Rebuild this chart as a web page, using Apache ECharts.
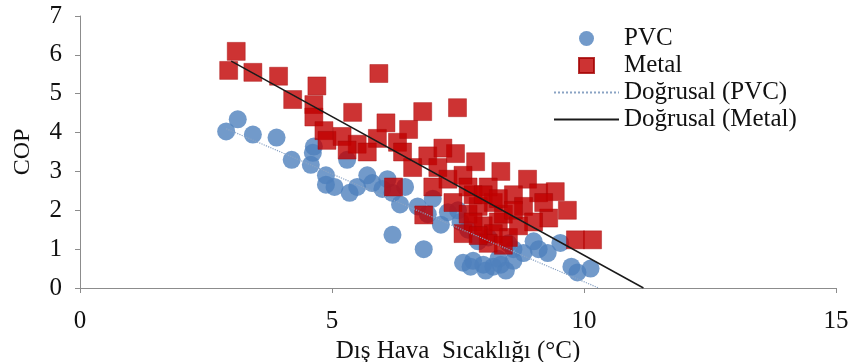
<!DOCTYPE html>
<html>
<head>
<meta charset="utf-8">
<title>COP - Dış Hava Sıcaklığı</title>
<script src="https://cdn.jsdelivr.net/npm/echarts@6/dist/echarts.min.js"></script>
<style>
  html, body { margin: 0; padding: 0; background: #fff; }
  #chart { width: 852px; height: 362px; }
</style>
</head>
<body>
<div id="chart"></div>
<script>
// olculen noktalar (x: dis hava sicakligi, y: COP)
var pvcPoints = [
  [2.9, 4.03], [3.13, 4.34], [3.43, 3.95], [3.9, 3.87], [4.2, 3.3], [4.62, 3.48],
  [4.64, 3.64], [4.58, 3.17], [4.88, 2.9], [4.88, 2.66], [5.05, 2.6], [5.3, 3.3],
  [5.35, 2.45], [5.5, 2.6], [5.7, 2.9], [5.8, 2.7], [6.0, 2.55], [6.1, 2.8],
  [6.2, 2.45], [6.35, 2.15], [6.45, 2.6], [6.2, 1.37], [6.82, 1.0], [6.7, 2.1],
  [6.9, 1.9], [7.0, 2.3], [7.16, 1.63], [7.3, 1.95], [7.5, 2.0], [7.55, 1.7],
  [7.7, 1.5], [7.6, 0.65], [7.8, 0.7], [8.0, 0.6], [8.2, 0.55], [8.45, 0.45],
  [8.3, 0.75], [7.9, 1.2], [8.1, 1.3], [8.5, 1.15], [8.8, 0.9], [9.28, 0.9],
  [9.53, 1.16], [9.87, 0.4], [10.13, 0.5], [8.6, 1.0], [9.0, 1.2],
  [7.75, 0.55], [8.05, 0.45], [8.35, 0.6], [8.6, 0.7], [9.75, 0.55], [9.1, 1.0]
];
var metalPoints = [
  [2.95, 5.6], [3.1, 6.09], [3.43, 5.55], [3.94, 5.45], [4.22, 4.85], [4.7, 5.2],
  [4.64, 4.72], [4.64, 4.4], [4.84, 4.05], [4.9, 3.8], [5.41, 4.52], [5.2, 3.9],
  [5.5, 3.7], [5.93, 5.52], [6.07, 4.25], [5.9, 3.85], [6.3, 3.75], [6.52, 4.08],
  [6.4, 3.5], [6.8, 4.54], [6.9, 3.4], [7.1, 3.1], [7.49, 4.64], [7.45, 3.46],
  [7.3, 2.8], [7.0, 2.6], [7.85, 3.25], [7.6, 2.9], [8.35, 3.0], [8.1, 2.6],
  [8.88, 2.8], [8.6, 2.4], [9.1, 2.45], [9.43, 2.48], [8.8, 2.1], [9.3, 1.8],
  [9.67, 2.0], [7.4, 2.2], [7.7, 1.9], [7.6, 1.4], [8.0, 1.6], [8.3, 1.7],
  [8.5, 1.3], [8.4, 1.9], [9.0, 1.7], [6.22, 2.6], [6.82, 1.88], [9.83, 1.24],
  [10.17, 1.24], [8.2, 2.2], [7.9, 2.1], [6.6, 3.1], [5.7, 3.5], [7.2, 3.6],
  [7.8, 2.4], [5.3, 3.55], [7.7, 2.6], [8.0, 2.4], [8.3, 2.3], [8.6, 2.0],
  [8.2, 1.4], [7.8, 1.7], [8.7, 1.6], [9.2, 2.2], [8.1, 1.15], [8.4, 1.1], [7.9, 1.35]
];
// dogrusal egilim cizgileri (uc noktalar)
var pvcTrend = [[2.9, 4.1], [10.29, 0]];
var metalTrend = [[3.0, 5.84], [11.18, 0]];
var seriesNames = ['PVC', 'Metal', 'Doğrusal (PVC)', 'Doğrusal (Metal)'];
var xTicks = [0, 5, 10, 15];
var yTicks = [0, 1, 2, 3, 4, 5, 6, 7];

var font = 'Liberation Serif';
var noSymbol = { color: 'rgba(0,0,0,0)', borderWidth: 0 };
// kare ikon: 65x15 kutunun ortasinda 15x15 kare
var squareIcon = 'path://M0,0M65,15M25,0L40,0L40,15L25,15Z';
var myChart = echarts.init(document.getElementById('chart'));
var option = {
  animation: false,
  textStyle: { fontFamily: font },
  grid: { left: 80, right: 16, top: 16, bottom: 74, outerBoundsMode: 'none' },
  legend: {
    orient: 'vertical',
    left: 548,
    top: 21,
    itemWidth: 65,
    itemHeight: 15,
    itemGap: 2,
    data: [
      { name: seriesNames[0], icon: 'circle' },
      { name: seriesNames[1], icon: squareIcon },
      { name: seriesNames[2], itemStyle: noSymbol },
      { name: seriesNames[3], itemStyle: noSymbol }
    ],
    textStyle: { fontFamily: font, fontSize: 25, color: '#111', lineHeight: 25 }
  },
  xAxis: {
    type: 'value',
    min: xTicks[0],
    max: xTicks[xTicks.length - 1],
    interval: 5,
    name: 'Dış Hava  Sıcaklığı (°C)',
    nameLocation: 'middle',
    nameGap: 41,
    nameTextStyle: { fontFamily: font, fontSize: 25, color: '#111' },
    axisLine: { lineStyle: { color: '#8c8c8c', width: 1 } },
    axisTick: { show: true, length: 5, lineStyle: { color: '#8c8c8c' } },
    axisLabel: { fontFamily: font, fontSize: 25, color: '#111', margin: 21 },
    splitLine: { show: false }
  },
  yAxis: {
    type: 'value',
    min: yTicks[0],
    max: yTicks[yTicks.length - 1],
    interval: 1,
    name: 'COP',
    nameLocation: 'middle',
    nameRotate: 90,
    nameGap: 45,
    nameTextStyle: { fontFamily: font, fontSize: 24, color: '#111' },
    axisLine: { show: true, lineStyle: { color: '#8c8c8c', width: 1 } },
    axisTick: { show: true, length: 5, lineStyle: { color: '#8c8c8c' } },
    axisLabel: { fontFamily: font, fontSize: 25, color: '#111', margin: 18 },
    splitLine: { show: false }
  },
  series: [
    {
      name: seriesNames[0],
      type: 'scatter',
      symbol: 'circle',
      symbolSize: 18,
      itemStyle: { color: '#4f81bd' },
      data: pvcPoints,
      z: 2
    },
    {
      name: seriesNames[1],
      type: 'scatter',
      symbol: 'rect',
      symbolSize: 18,
      itemStyle: { color: '#c00000', borderColor: '#a30000', borderWidth: 0.5 },
      data: metalPoints,
      z: 3
    },
    {
      name: seriesNames[2],
      type: 'line',
      symbol: 'none',
      lineStyle: { color: '#8aa3c4', width: 1.2, type: 'dotted' },
      itemStyle: { color: '#8aa3c4' },
      data: pvcTrend,
      z: 4
    },
    {
      name: seriesNames[3],
      type: 'line',
      symbol: 'none',
      lineStyle: { color: '#1a1a1a', width: 1.5 },
      itemStyle: { color: '#1a1a1a' },
      data: metalTrend,
      z: 5
    }
  ]
};
myChart.setOption(option);
</script>
</body>
</html>
